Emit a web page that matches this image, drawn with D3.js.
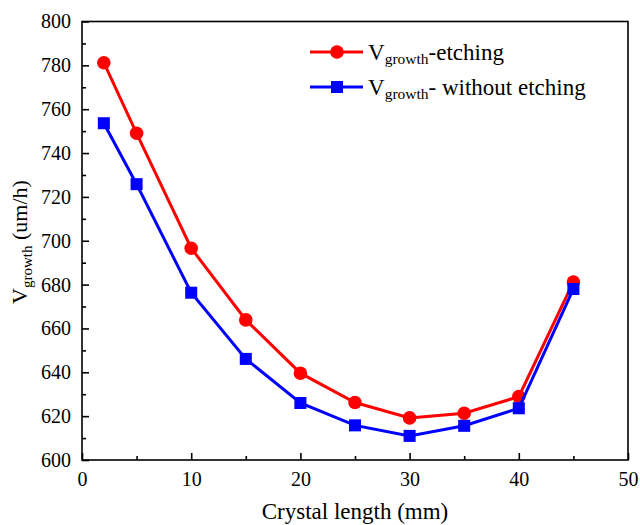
<!DOCTYPE html>
<html lang="en">
<head>
    <meta charset="UTF-8">
    <title>Growth rate vs crystal length</title>
    <style>
        body { margin: 0; background: #fff; }
    </style>
    <script src="https://d3js.org/d3.v7.min.js"></script>
</head>
<body>
    <svg width="640" height="525"></svg>
    <script>
        // crystal length (mm)
        const lengths = [2, 5, 10, 15, 20, 25, 30, 35, 40, 45];
        const etching = [781.2, 749, 696.6, 663.9, 639.6, 626.2, 619.2, 621.3, 628.9, 681.2];
        const withoutEtching = [753.6, 725.8, 676.3, 646.1, 626, 615.8, 611, 615.6, 623.6, 678];
        const xTicks = [0, 10, 20, 30, 40, 50];
        const yTicks = [600, 620, 640, 660, 680, 700, 720, 740, 760, 780, 800];

        const svg = d3.select("svg");
        const plotL = 82, plotR = 628, plotT = 21.5, plotB = 460;
        const serif = "Liberation Serif";

        const x = d3.scaleLinear().domain([0, 50]).range([plotL, plotR]);
        const y = d3.scaleLinear().domain([600, 800]).range([plotB, plotT]);

        // frame
        svg.append("rect")
            .attr("x", plotL).attr("y", plotT)
            .attr("width", plotR - plotL).attr("height", plotB - plotT)
            .attr("fill", "none").attr("stroke", "#000").attr("stroke-width", 1.6);

        // x axis: major ticks inward, minor between
        const xAxis = svg.append("g").attr("transform", `translate(0,${plotB})`);
        xAxis.call(d3.axisBottom(x).tickValues(xTicks).tickSize(-7).tickPadding(12).tickFormat(d3.format("d")));
        xAxis.append("g").call(d3.axisBottom(x).tickValues(d3.range(5, 50, 10)).tickSize(-4).tickFormat(""));
        xAxis.selectAll(".domain").remove();

        const yAxis = svg.append("g").attr("transform", `translate(${plotL},0)`);
        yAxis.call(d3.axisLeft(y).tickValues(yTicks).tickSize(-7).tickPadding(11).tickFormat(d3.format("d")));
        yAxis.append("g").call(d3.axisLeft(y).tickValues(d3.range(610, 800, 20)).tickSize(-4).tickFormat(""));
        yAxis.selectAll(".domain").remove();

        svg.selectAll(".tick line").attr("stroke", "#000").attr("stroke-width", 1.6);
        svg.selectAll(".tick text").attr("font-size", 20);

        // axis titles
        svg.append("text")
            .attr("x", x(25)).attr("y", 519)
            .attr("text-anchor", "middle").attr("font-size", 23)
            .text("Crystal length (mm)");

        const yl = svg.append("text")
            .attr("transform", "translate(27,242) rotate(-90)")
            .attr("text-anchor", "middle").attr("font-size", 22);
        yl.append("tspan").text("V");
        yl.append("tspan").attr("font-size", 15).attr("dy", 5).text("growth");
        yl.append("tspan").attr("dy", -5).text(" (um/h)");

        const series = [
            { name: "-etching", values: etching, color: "#ff0000", shape: d3.symbolCircle, size: 145 },
            { name: "- without etching", values: withoutEtching, color: "#0000ff", shape: d3.symbolSquare, size: 145 }
        ];

        const line = d3.line().x(d => x(d[0])).y(d => y(d[1]));

        series.forEach(s => {
            const pts = lengths.map((l, i) => [l, s.values[i]]);
            svg.append("path")
                .datum(pts)
                .attr("d", line)
                .attr("fill", "none")
                .attr("stroke", s.color)
                .attr("stroke-width", 3);
            svg.append("g").selectAll("path")
                .data(pts)
                .enter().append("path")
                .attr("transform", d => `translate(${x(d[0])},${y(d[1])})`)
                .attr("d", d3.symbol().type(s.shape).size(s.size))
                .attr("fill", s.color);
        });

        // legend
        const legend = svg.append("g");
        series.forEach((s, i) => {
            const ly = 52 + i * 35;
            legend.append("line")
                .attr("x1", 310).attr("x2", 363).attr("y1", ly).attr("y2", ly)
                .attr("stroke", s.color).attr("stroke-width", 3);
            legend.append("path")
                .attr("transform", `translate(337,${ly})`)
                .attr("d", d3.symbol().type(s.shape).size(s.size))
                .attr("fill", s.color);
            const t = legend.append("text")
                .attr("x", 368).attr("y", ly + 7.5).attr("font-size", 23);
            t.append("tspan").text("V");
            t.append("tspan").attr("font-size", 15.5).attr("dy", 4.5).text("growth");
            t.append("tspan").attr("dy", -4.5).text(s.name);
        });

        svg.selectAll("text").attr("font-family", serif).attr("fill", "#000");
    </script>
</body>
</html>
